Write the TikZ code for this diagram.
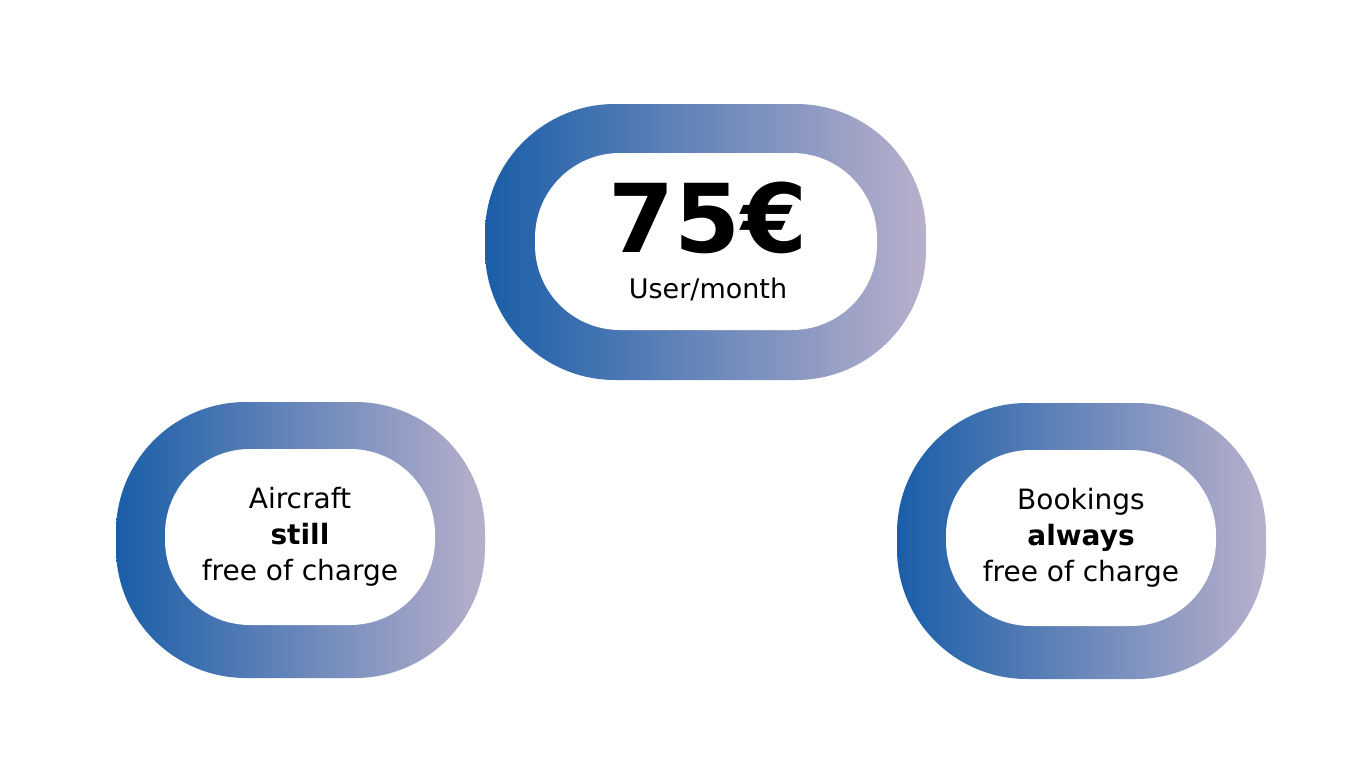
\documentclass[tikz,border=0pt]{standalone}
\usepackage{fontspec}
\setmainfont{DejaVu Sans}
\usepackage{tikz}
\definecolor{ringblue}{HTML}{1A5EA8}
\definecolor{ringlilac}{HTML}{B8B0CC}
\tikzset{ring/.style={left color=ringblue, right color=ringlilac, draw=none, rounded corners=130pt, inner sep=0pt},
  hole/.style={fill=white, draw=none, rounded corners=85pt, inner sep=0pt, align=center, font=\fontsize{28}{36}\selectfont}}
\begin{document}
\begin{tikzpicture}[x=1pt,y=-1pt]
\useasboundingbox (0,0) rectangle (1366,768);
% top price ring
\node[ring, minimum width=441pt, minimum height=276pt] (price) at (705.5,242) {};
\node[hole, minimum width=342pt, minimum height=177pt] (pricein) at (706,241.5) {};
\node[font=\fontsize{95}{95}\selectfont\bfseries, inner sep=0pt] (amount) at (708,218) {75€};
\node[font=\fontsize{27}{30}\selectfont, inner sep=0pt, anchor=north] (unit) at (amount.south |- 0,278) {User/month};
% left ring
\node[ring, minimum width=369pt, minimum height=276pt] (aircraft) at (300.5,540) {};
\node[hole, minimum width=270pt, minimum height=176pt] (aircraftin) at (300,537) {Aircraft\\\textbf{still}\\free of charge};
% right ring
\node[ring, minimum width=369pt, minimum height=276pt] (bookings) at (1081.5,541) {};
\node[hole, minimum width=270pt, minimum height=176pt] (bookingsin) at (1081,538) {Bookings\\\textbf{always}\\free of charge};
\end{tikzpicture}
\end{document}
